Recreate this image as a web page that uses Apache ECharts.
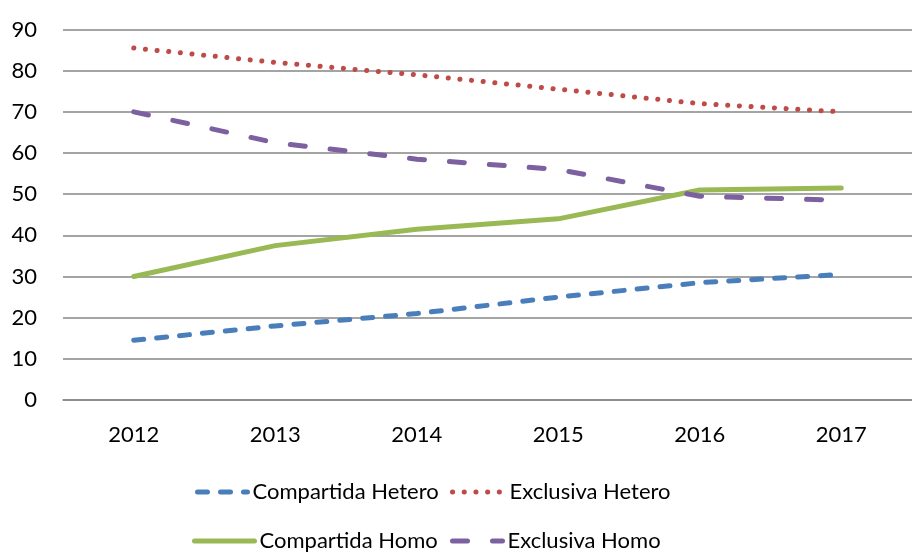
<!DOCTYPE html>
<html style="height: 100%">
  <head>
    <meta charset="utf-8" />
    <title>Compartida / Exclusiva</title>
    <script src="https://cdn.jsdelivr.net/npm/echarts@6/dist/echarts.min.js"></script>
  </head>
  <body style="height: 100%; margin: 0; background: #fff">
    <div id="main" style="width: 912px; height: 552px"></div>
    <script type="text/javascript">
      // datos
      var years = ["2012", "2013", "2014", "2015", "2016", "2017"];
      var compartidaHetero = [14.5, 18, 21, 25, 28.5, 30.5];
      var exclusivaHetero = [85.5, 82, 79, 75.5, 72, 70];
      var compartidaHomo = [30, 37.5, 41.5, 44, 51, 51.5];
      var exclusivaHomo = [70, 62.5, 58.5, 56, 49.5, 48.5];

      var myChart = echarts.init(document.getElementById("main"));
      var font = "Lato, 'Open Sans', sans-serif";

      // estilos de linea (serie y leyenda)
      var estilos = {
        "Compartida Hetero": { color: "#4A7EBB", width: 5, type: [10, 13] },
        "Exclusiva Hetero": { color: "#BE4B48", width: 5, type: [0.1, 11.6] },
        "Compartida Homo": { color: "#98B954", width: 5, type: "solid" },
        "Exclusiva Homo": { color: "#7D60A0", width: 5, type: [15, 25] },
      };

      function legendAt(name, left, top, w) {
        var s = estilos[name];
        return {
          data: [name],
          left: left,
          top: top,
          itemWidth: w,
          itemHeight: 6,
          itemGap: 0,
          itemStyle: { opacity: 0 },
          lineStyle: { color: s.color, width: s.width, type: s.type, cap: "round" },
          textStyle: { fontFamily: font, fontSize: 22, color: "#000" },
        };
      }

      function serie(name, data) {
        var s = estilos[name];
        return {
          name: name,
          type: "line",
          data: data,
          symbol: "none",
          lineStyle: { color: s.color, width: s.width, type: s.type, cap: "round" },
          itemStyle: { color: s.color },
        };
      }

      var option = {
        animation: false,
        grid: { left: 63, right: 0, top: 29.5, bottom: 152 },
        legend: [
          legendAt("Compartida Hetero", 190, 476, 50),
          legendAt("Exclusiva Hetero", 445, 476, 52),
          legendAt("Compartida Homo", 187, 525, 60),
          legendAt("Exclusiva Homo", 445, 525, 50),
        ],
        xAxis: {
          type: "category",
          data: years,
          boundaryGap: true,
          axisLine: { show: true, lineStyle: { color: "#868686", width: 1.5 } },
          axisTick: { show: false },
          axisLabel: { margin: 24, fontFamily: font, fontSize: 22, color: "#000" },
        },
        yAxis: {
          type: "value",
          min: 0,
          max: 90,
          interval: 10,
          axisLine: { show: false },
          axisTick: { show: false },
          axisLabel: { margin: 26, fontFamily: font, fontSize: 22, color: "#000" },
          splitLine: { lineStyle: { color: "#868686", width: 1.5 } },
        },
        series: [
          serie("Compartida Hetero", compartidaHetero),
          serie("Exclusiva Hetero", exclusivaHetero),
          serie("Compartida Homo", compartidaHomo),
          serie("Exclusiva Homo", exclusivaHomo),
        ],
      };

      myChart.setOption(option);
    </script>
  </body>
</html>
